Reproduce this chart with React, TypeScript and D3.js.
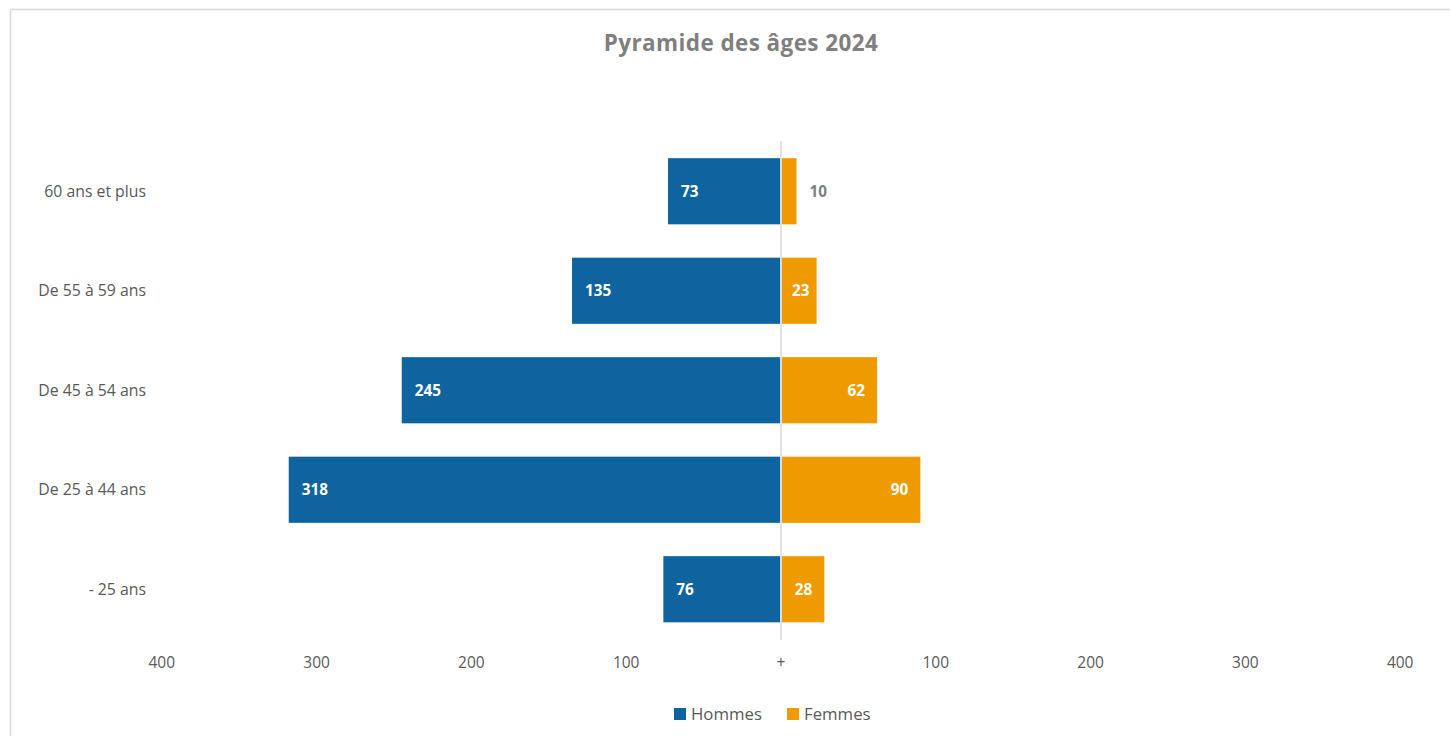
import React from "react";
import * as d3 from "d3";

const ageGroups = ["60 ans et plus", "De 55 à 59 ans", "De 45 à 54 ans", "De 25 à 44 ans", "- 25 ans"];
const hommes = [73, 135, 245, 318, 76];
const femmes = [10, 23, 62, 90, 28];
const axisTicks = [-400, -300, -200, -100, 0, 100, 200, 300, 400];
const seriesNames = ["Hommes", "Femmes"];

const W = 1450, H = 736;
const BLUE = "#0F64A0";
const ORANGE = "#EE9A00";
const FONT = "'Open Sans', 'Liberation Sans', sans-serif";

export default function App() {
  const x = d3.scaleLinear().domain([-400, 400]).range([161.8, 1400.2]);
  const y = d3.scaleBand<string>()
    .domain(ageGroups)
    .range([141.5, 639])
    .paddingInner(0.335)
    .paddingOuter(0.1675);
  const bw = y.bandwidth();
  const cx = x(0);
  const pad = 13;
  const textW = (v: number) => String(v).length * 9.2;

  return (
    <svg width={W} height={H} style={{ position: "absolute", left: 0, top: 0, display: "block", background: "#fff" }}>
      <rect x={10.5} y={9.5} width={1462} height={780} fill="#fff" stroke="#d9d9d9" strokeWidth={1.5} />
      <text x={741} y={51} textAnchor="middle" fontFamily={FONT} fontWeight={700} fontSize={22.5} letterSpacing={0.4} fill="#7f7f7f">
        Pyramide des âges 2024
      </text>

      {ageGroups.map((g, i) => {
        const yc = y(g)! + bw / 2;
        const h = hommes[i];
        const f = femmes[i];
        const hx = x(-h);
        const fx = x(f);
        const fw = fx - cx;
        let fLabel;
        const tw = textW(f);
        if (fw > tw + 2 * 12) {
          fLabel = <text x={fx - 12} y={yc + 5.5} textAnchor="end" fill="#fff">{f}</text>;
        } else if (fw > tw + 4) {
          fLabel = <text x={cx + fw / 2 + 2} y={yc + 5.5} textAnchor="middle" fill="#fff">{f}</text>;
        } else {
          fLabel = <text x={fx + pad} y={yc + 5.5} textAnchor="start" fill="#7f7f7f">{f}</text>;
        }
        return (
          <g key={g}>
            <text x={146} y={yc + 5.5} textAnchor="end" fontFamily={FONT} fontSize={15.8} fill="#595959">{g}</text>
            <rect x={hx} y={y(g)} width={cx - 0.8 - hx} height={bw} fill={BLUE} />
            <rect x={cx + 0.8} y={y(g)} width={Math.max(0, fw - 0.8)} height={bw} fill={ORANGE} />
            <g fontFamily={FONT} fontWeight={700} fontSize={15.3}>
              <text x={hx + pad} y={yc + 5.5} textAnchor="start" fill="#fff">{h}</text>
              {fLabel}
            </g>
          </g>
        );
      })}

      <line x1={cx} x2={cx} y1={141} y2={640} stroke="#d9d9d9" strokeWidth={1.5} />

      {axisTicks.map((t) => (
        <text key={t} x={x(t)} y={668} textAnchor="middle" fontFamily={FONT} fontSize={15.5} fill="#595959">
          {t === 0 ? "+" : String(Math.abs(t))}
        </text>
      ))}

      {seriesNames.map((s, i) => {
        const lx = i === 0 ? 674 : 787;
        return (
          <g key={s}>
            <rect x={lx} y={708} width={12} height={12} fill={i === 0 ? BLUE : ORANGE} />
            <text x={lx + 17} y={720} fontFamily={FONT} fontSize={16.8} fill="#595959">{s}</text>
          </g>
        );
      })}
    </svg>
  );
}
